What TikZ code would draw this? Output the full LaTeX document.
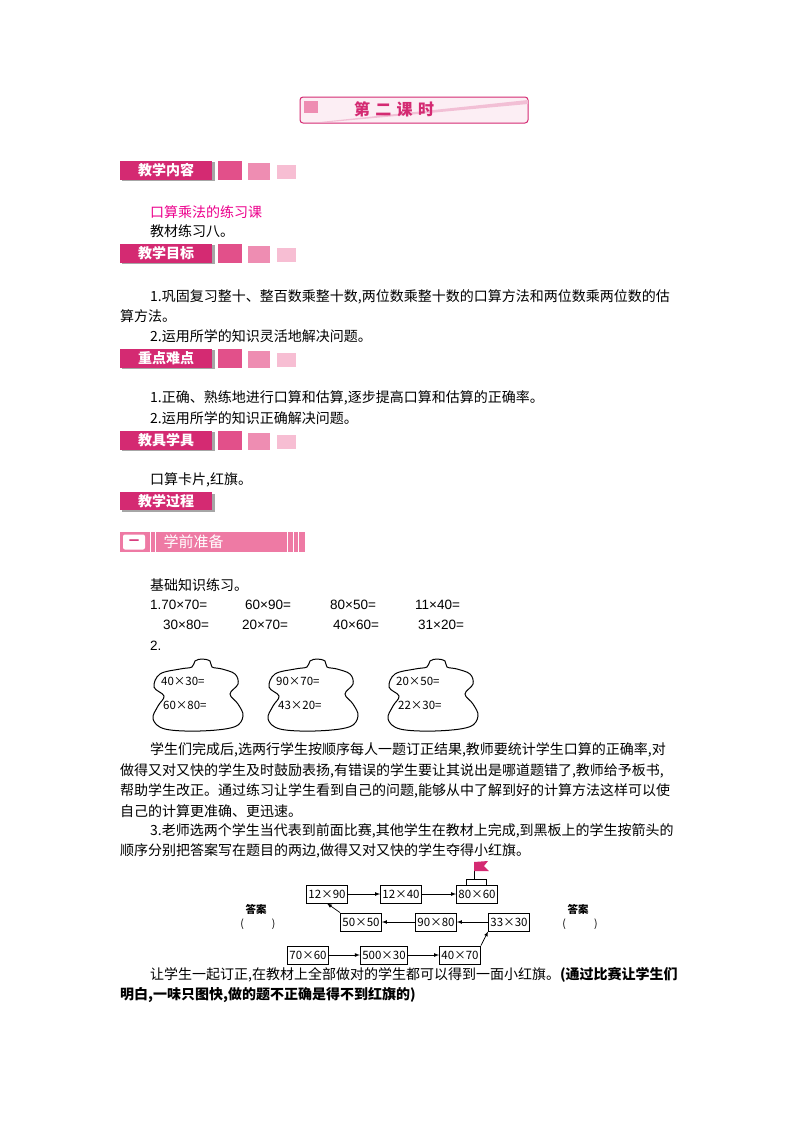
\documentclass[tikz,border=0pt]{standalone}
\usepackage{fontspec}
\setmainfont{Noto Sans CJK SC}
\newfontfamily\lat{Liberation Sans}
\definecolor{mag}{HTML}{D42A72}
\definecolor{sq1}{HTML}{E2508A}
\definecolor{sq2}{HTML}{EE8DB2}
\definecolor{sq3}{HTML}{F7BED3}
\definecolor{bar}{HTML}{EE7AA4}
\begin{document}
\begin{tikzpicture}[x=1pt,y=-1pt,
  txt/.style={anchor=west,inner sep=0pt,font=\fontsize{14}{15}\selectfont},
  num/.style={anchor=west,inner sep=0pt,font=\lat\fontsize{13.5}{15}\selectfont},
  hdr/.style={fill=mag,text=white,anchor=west,minimum width=92pt,minimum height=19pt,inner sep=0pt,font=\fontsize{14}{15}\selectfont\bfseries},
  sqa/.style={fill=sq1,minimum width=24pt,minimum height=19pt,inner sep=0pt},
  sqb/.style={fill=sq2,minimum width=22pt,minimum height=17pt,inner sep=0pt},
  sqc/.style={fill=sq3,minimum width=19pt,minimum height=14pt,inner sep=0pt},
  bx/.style={draw,line width=0.8pt,minimum height=18pt,inner sep=2pt,font=\fontsize{11.5}{12}\selectfont},
  ar/.style={->,>=latex,line width=0.7pt},
  gd/.style={line width=1pt},
  gt/.style={anchor=west,inner sep=0pt,font=\fontsize{11.5}{12}\selectfont}]
\useasboundingbox (0,0) rectangle (800,1132);
% title
\node[draw=mag,line width=1pt,rounded corners=3pt,fill=mag!8,minimum width=228pt,minimum height=26pt,inner sep=0pt] (title) at (414,110) {};
\fill[sq2] (304,101) rectangle (318,113);
\fill[mag!30] (320,122) -- (528,100) -- (528,104) -- (330,122) -- cycle;
\node[text=mag,font=\fontsize{16}{17}\selectfont\bfseries] (tt) at (394,109) {第\,\,二\,\,课\,\,时};
% headers with squares
\foreach \y/\t [count=\i] in {170/教学内容,253/教学目标,358/重点难点,440/教具学具}{
  \fill[black!35] (122,\y-8) rectangle (215,\y+11);
  \node[hdr] (h\i) at (120,\y) {\t};
  \node[sqa] (a\i) at (230,\y) {};
  \node[sqb] (b\i) at (259,\y+1) {};
  \node[sqc] (c\i) at (286,\y+2) {};
}
\fill[black!35] (122,494) rectangle (215,512);
\node[hdr,minimum height=18pt] (h5) at (120,501) {教学过程};
% section bar
\fill[bar] (120,532) rectangle (305,552);
\node[fill=white,rounded corners=2pt,minimum width=22pt,minimum height=15pt,inner sep=0pt,text=mag,font=\bfseries] (one) at (134,542) {一};
\foreach \x in {150,155,287,293,298}{\draw[white,line width=1pt] (\x,532) -- (\x,552);}
\node[anchor=west,text=white,font=\fontsize{15}{16}\selectfont] (sec) at (160,542) {学前准备};
% texts
\node[txt,text=magenta] (t1) at (150,212) {口算乘法的练习课};
\node[txt] (t2) at (150,231) {教材练习八。};
\node[txt] (t3) at (150,297) {1.巩固复习整十、整百数乘整十数,两位数乘整十数的口算方法和两位数乘两位数的估};
\node[txt] (t4) at (120,316) {算方法。};
\node[txt] (t5) at (150,336) {2.运用所学的知识灵活地解决问题。};
\node[txt] (t6) at (150,398) {1.正确、熟练地进行口算和估算,逐步提高口算和估算的正确率。};
\node[txt] (t7) at (150,418) {2.运用所学的知识正确解决问题。};
\node[txt] (t8) at (150,480) {口算卡片,红旗。};
\node[txt] (t9) at (150,585) {基础知识练习。};
\node[num] (r11) at (150,605) {1.70×70=};
\node[num] (r12) at (245,605) {60×90=};
\node[num] (r13) at (330,605) {80×50=};
\node[num] (r14) at (415,605) {11×40=};
\node[num] (r21) at (163,625) {30×80=};
\node[num] (r22) at (242,625) {20×70=};
\node[num] (r23) at (333,625) {40×60=};
\node[num] (r24) at (418,625) {31×20=};
\node[num] (t10) at (150,646) {2.};
% gourds
\foreach \gx/\ua/\ub [count=\i] in {150/40×30=/60×80=,265/90×70=/43×20=,385/20×50=/22×30=}{
  \begin{scope}[shift={(\gx,659)}]
  \draw[gd] plot[smooth cycle,tension=0.6] coordinates {(52,0)(60,2)(62,8)(72,10)(85,15)(88,25)(80,35)(88,45)(93,57)(84,68)(50,72)(15,70)(3,60)(8,47)(14,37)(4,28)(10,15)(30,10)(42,8)(45,2)};
  \end{scope}
  \node[gt] (ga\i) at (\gx+11,681) {\ua};
  \node[gt] (gb\i) at (\gx+13,705) {\ub};
}
\node[txt] (p1) at (150,750) {学生们完成后,选两行学生按顺序每人一题订正结果,教师要统计学生口算的正确率,对};
\node[txt] (p2) at (120,771) {做得又对又快的学生及时鼓励表扬,有错误的学生要让其说出是哪道题错了,教师给予板书,};
\node[txt] (p3) at (120,791) {帮助学生改正。通过练习让学生看到自己的问题,能够从中了解到好的计算方法这样可以使};
\node[txt] (p4) at (120,811) {自己的计算更准确、更迅速。};
\node[txt] (p5) at (150,831) {3.老师选两个学生当代表到前面比赛,其他学生在教材上完成,到黑板上的学生按箭头的};
\node[txt] (p6) at (120,851) {顺序分别把答案写在题目的两边,做得又对又快的学生夺得小红旗。};
% diagram
\node[bx] (n1) at (327,894) {12×90};
\node[bx] (n2) at (401,894) {12×40};
\node[bx] (n3) at (477,894) {80×60};
\node[bx] (n4) at (361,922) {50×50};
\node[bx] (n5) at (436,922) {90×80};
\node[bx] (n6) at (509,922) {33×30};
\node[bx] (n7) at (308,955) {70×60};
\node[bx] (n8) at (384,955) {500×30};
\node[bx] (n9) at (460,955) {40×70};
\draw[line width=0.7pt] (466,885) rectangle (486,879);
\draw[line width=0.7pt] (474,879) -- (474,862);
\fill[mag] (474,862) -- (488,861) -- (484,866) -- (489,871) -- (474,871) -- cycle;
\draw[ar] (n1) -- (n2); \draw[ar] (n2) -- (n3);
\draw[ar] (n6) -- (n5); \draw[ar] (n5) -- (n4);
\draw[ar] (n4.north west) -- (n1.south);
\draw[ar] (n7) -- (n8); \draw[ar] (n8) -- (n9);
\draw[ar] (n9.north east) -- (n6.south west);
\node[font=\fontsize{10.5}{11}\selectfont\bfseries] (d1) at (256,909) {答案};
\node[font=\fontsize{10.5}{11}\selectfont] (d2) at (258,924) {(\hspace{28pt})};
\node[font=\fontsize{10.5}{11}\selectfont\bfseries] (d3) at (578,909) {答案};
\node[font=\fontsize{10.5}{11}\selectfont] (d4) at (580,924) {(\hspace{28pt})};
\node[txt] (p7) at (150,975) {让学生一起订正,在教材上全部做对的学生都可以得到一面小红旗。\textbf{(通过比赛让学生们}};
\node[txt,font=\fontsize{14}{15}\selectfont\bfseries] (p8) at (120,995) {明白,一味只图快,做的题不正确是得不到红旗的)};
\end{tikzpicture}
\end{document}
